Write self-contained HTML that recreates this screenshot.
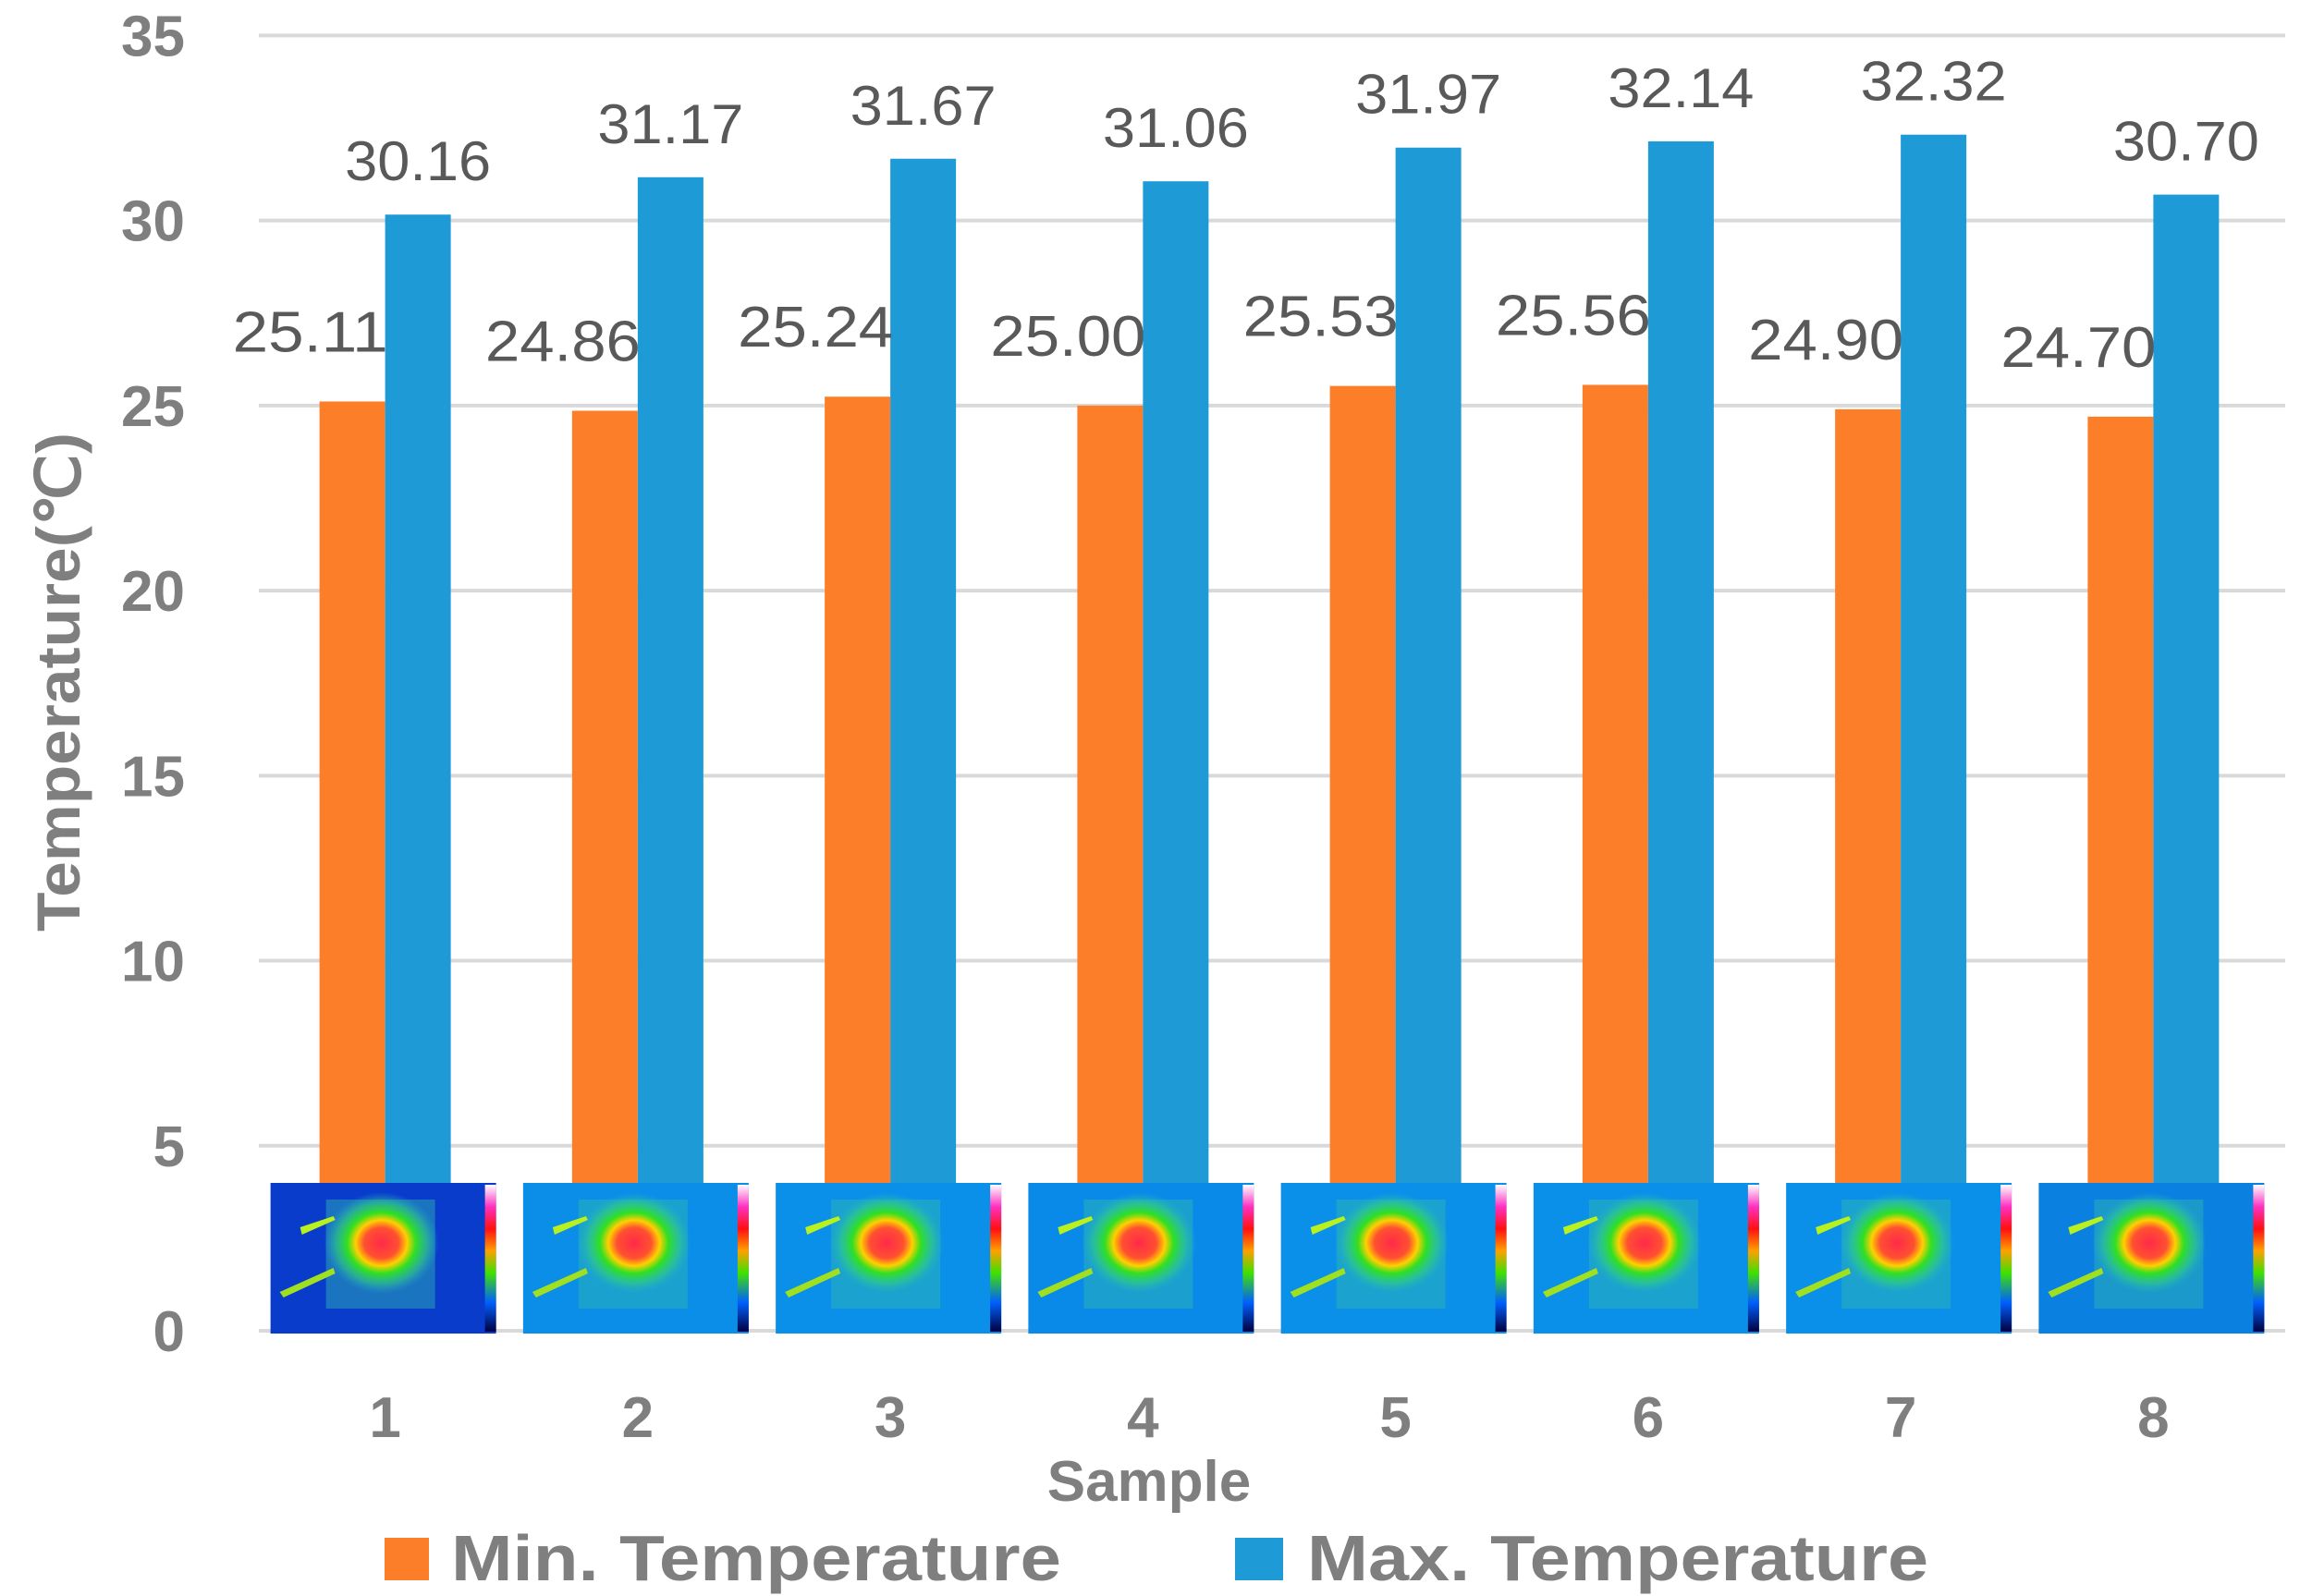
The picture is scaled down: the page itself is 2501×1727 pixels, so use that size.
<!DOCTYPE html>
<html><head><meta charset="utf-8">
<style>
html,body{margin:0;padding:0;background:#fff;}
#wrap{position:relative;width:2501px;height:1727px;overflow:hidden;background:#fff;}
svg text{font-family:"Liberation Sans",sans-serif;}
</style></head>
<body>
<div id="wrap">
<svg id="chart" width="2501" height="1727" viewBox="0 0 2501 1727">
<defs>
<radialGradient id="spot" cx="50%" cy="50%" r="50%">
<stop offset="0" stop-color="#ff2a4a"/>
<stop offset="0.3" stop-color="#ff5030"/>
<stop offset="0.45" stop-color="#ffd000"/>
<stop offset="0.6" stop-color="#30e020"/>
<stop offset="0.8" stop-color="#30d080" stop-opacity="0.6"/>
<stop offset="1" stop-color="#20b0d0" stop-opacity="0"/>
</radialGradient>
<linearGradient id="cbar" x1="0" y1="0" x2="0" y2="1">
<stop offset="0" stop-color="#ffffff"/>
<stop offset="0.15" stop-color="#ff30c0"/>
<stop offset="0.3" stop-color="#ff1010"/>
<stop offset="0.45" stop-color="#ffa000"/>
<stop offset="0.6" stop-color="#40e000"/>
<stop offset="0.8" stop-color="#0060ff"/>
<stop offset="1" stop-color="#000040"/>
</linearGradient>
</defs>
<g id="grid"></g>
<g id="yticks"></g>
<g id="bars"></g>
<g id="thermals"></g>
<g id="labels"></g>
<g id="xticks"></g>
<text x="1243" y="1624" font-size="62" font-weight="bold" fill="#7f7f7f" text-anchor="middle">Sample</text>
<text transform="translate(86,738) rotate(-90)" font-size="66" font-weight="bold" fill="#7f7f7f" text-anchor="middle" textLength="540" lengthAdjust="spacingAndGlyphs">Temperature(℃)</text>
<g>
<g>
<rect x="416" y="1664" width="48" height="46" fill="#fd7e28"/>
<text x="488" y="1710" font-size="70" font-weight="bold" fill="#7f7f7f" textLength="660" lengthAdjust="spacingAndGlyphs">Min. Temperature</text>
</g>
<g>
<rect x="1336" y="1664" width="52" height="46" fill="#1e9bd7"/>
<text x="1414" y="1710" font-size="70" font-weight="bold" fill="#7f7f7f" textLength="672" lengthAdjust="spacingAndGlyphs">Max. Temperature</text>
</g>
</g>
</svg>
</div>
<script>
const categories = ["1","2","3","4","5","6","7","8"];
const minTemps = [25.11, 24.86, 25.24, 25.00, 25.53, 25.56, 24.90, 24.70];
const maxTemps = [30.16, 31.17, 31.67, 31.06, 31.97, 32.14, 32.32, 30.70];
const yTicks = [0, 5, 10, 15, 20, 25, 30, 35];
const thermalBg = ["#0a3ccc","#0a8ee8","#0a90e8","#0a8ae8","#0a90e8","#0a90e8","#0a90e8","#0a80e0"];

const NS = "http://www.w3.org/2000/svg";
const X0 = 280, X1 = 2466, Y0 = 1440, Ytop = 38.4, YMAX = 35;
const bandW = (X1 - X0) / categories.length;
const barW = 71;
function yScale(v){ return Y0 - (v / YMAX) * (Y0 - Ytop); }
function xCenter(i){ return X0 + bandW * (i + 0.5); }
function mk(tag, attrs, parent){
  const e = document.createElementNS(NS, tag);
  for (const k in attrs) e.setAttribute(k, attrs[k]);
  parent.appendChild(e); return e;
}
const grid = document.getElementById('grid'), yt = document.getElementById('yticks');
yTicks.forEach(t => {
  const y = yScale(t);
  const l = mk('line', {x1:X0, x2:2472, y1:y, y2:y, stroke:'#d9d9d9', 'stroke-width':4}, grid);
  
  
  const tx = mk('text', {x:200, y:y+22, 'font-size':62, 'font-weight':'bold', fill:'#7f7f7f', 'text-anchor':'end'}, yt);
  tx.textContent = t;
  
  
});
const bars = document.getElementById('bars'), labels = document.getElementById('labels');
const therm = document.getElementById('thermals'), xt = document.getElementById('xticks');
categories.forEach((c, i) => {
  const cx = xCenter(i);
  const yMin = yScale(minTemps[i]), yMaxB = yScale(maxTemps[i]);
  const b1 = mk('rect', {x:cx-barW, y:yMin, width:barW, height:Y0-yMin, fill:'#fd7e28'}, bars);
  
  
  const b2 = mk('rect', {x:cx, y:yMaxB, width:barW, height:Y0-yMaxB, fill:'#1e9bd7'}, bars);
  
  
  const l1 = mk('text', {x:cx-barW-10, y:yMin-54, 'font-size':62, fill:'#595959', 'text-anchor':'middle', textLength:168, lengthAdjust:'spacingAndGlyphs'}, labels);
  l1.textContent = minTemps[i].toFixed(2);
  
  
  const l2 = mk('text', {x:cx+barW/2, y:yMaxB-37, 'font-size':60, fill:'#595959', 'text-anchor':'middle', textLength:158, lengthAdjust:'spacingAndGlyphs'}, labels);
  l2.textContent = maxTemps[i].toFixed(2);
  
  
  const g = mk('g', {}, therm);
  
  
  const ix = cx - 124, iy = 1280, iw = 244, ih = 163;
  mk('rect', {x:ix, y:iy, width:iw, height:ih, fill:thermalBg[i]}, g);
  mk('rect', {x:ix+60, y:iy+18, width:118, height:118, fill:'#30b8b0', opacity:0.45}, g);
  mk('ellipse', {cx:ix+120, cy:iy+65, rx:62, ry:55, fill:'url(#spot)'}, g);
  mk('polygon', {points:`${ix+32},${iy+48} ${ix+68},${iy+36} ${ix+70},${iy+40} ${ix+34},${iy+56}`, fill:'#b8f020'}, g);
  mk('polygon', {points:`${ix+10},${iy+118} ${ix+68},${iy+92} ${ix+70},${iy+98} ${ix+14},${iy+124}`, fill:'#a0e020'}, g);
  mk('rect', {x:ix+iw-12, y:iy+2, width:12, height:ih-4, fill:'url(#cbar)'}, g);
  const xl = mk('text', {x:cx, y:1555, 'font-size':62, 'font-weight':'bold', fill:'#7f7f7f', 'text-anchor':'middle'}, xt);
  xl.textContent = c;
  
  
});
</script>
</body></html>
